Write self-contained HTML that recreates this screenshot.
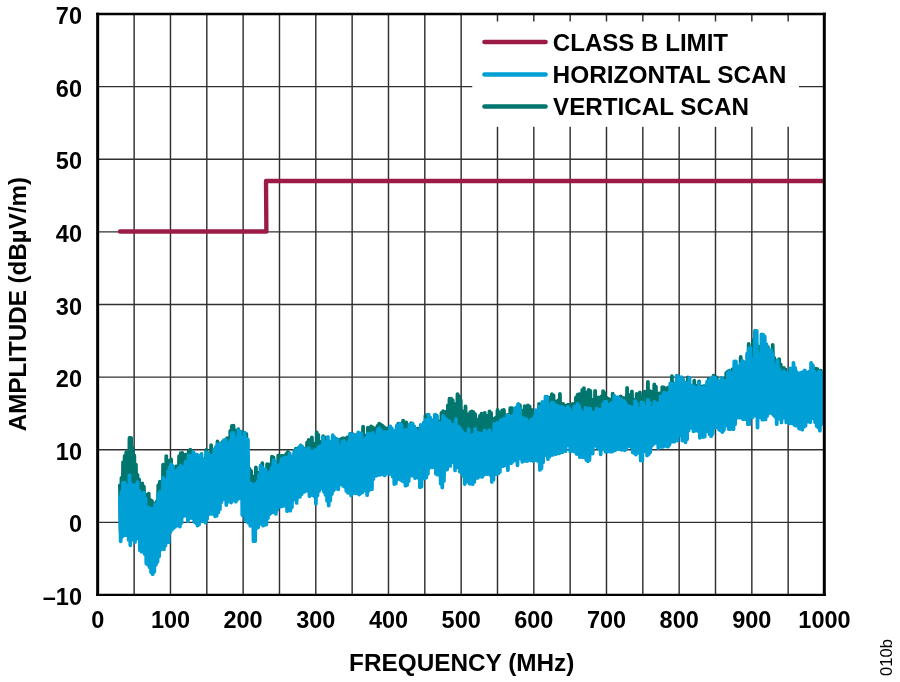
<!DOCTYPE html>
<html lang="en">
<head>
<meta charset="utf-8">
<title>Radiated Emissions</title>
<style>
html,body{margin:0;padding:0;background:#fff;}
body{width:900px;height:682px;overflow:hidden;}
svg{display:block;}
text{font-family:"Liberation Sans",Arial,Helvetica,sans-serif;font-weight:bold;fill:#000;}
.t{font-size:23.5px;}
.s{font-weight:normal;font-size:16.6px;}
</style>
</head>
<body>
<svg width="900" height="682" viewBox="0 0 900 682">
<rect x="0" y="0" width="900" height="682" fill="#ffffff"/>
<g stroke="#303030" stroke-width="1.45" fill="none">
<line x1="134.13" y1="14.0" x2="134.13" y2="595.0"/>
<line x1="170.47" y1="14.0" x2="170.47" y2="595.0"/>
<line x1="206.81" y1="14.0" x2="206.81" y2="595.0"/>
<line x1="243.14" y1="14.0" x2="243.14" y2="595.0"/>
<line x1="279.48" y1="14.0" x2="279.48" y2="595.0"/>
<line x1="315.81" y1="14.0" x2="315.81" y2="595.0"/>
<line x1="352.15" y1="14.0" x2="352.15" y2="595.0"/>
<line x1="388.48" y1="14.0" x2="388.48" y2="595.0"/>
<line x1="424.81" y1="14.0" x2="424.81" y2="595.0"/>
<line x1="461.15" y1="14.0" x2="461.15" y2="595.0"/>
<line x1="497.49" y1="14.0" x2="497.49" y2="595.0"/>
<line x1="533.82" y1="14.0" x2="533.82" y2="595.0"/>
<line x1="570.15" y1="14.0" x2="570.15" y2="595.0"/>
<line x1="606.49" y1="14.0" x2="606.49" y2="595.0"/>
<line x1="642.82" y1="14.0" x2="642.82" y2="595.0"/>
<line x1="679.16" y1="14.0" x2="679.16" y2="595.0"/>
<line x1="715.50" y1="14.0" x2="715.50" y2="595.0"/>
<line x1="751.83" y1="14.0" x2="751.83" y2="595.0"/>
<line x1="788.16" y1="14.0" x2="788.16" y2="595.0"/>
<line x1="97.8" y1="86.62" x2="824.5" y2="86.62"/>
<line x1="97.8" y1="159.25" x2="824.5" y2="159.25"/>
<line x1="97.8" y1="231.88" x2="824.5" y2="231.88"/>
<line x1="97.8" y1="304.50" x2="824.5" y2="304.50"/>
<line x1="97.8" y1="377.12" x2="824.5" y2="377.12"/>
<line x1="97.8" y1="449.75" x2="824.5" y2="449.75"/>
<line x1="97.8" y1="522.38" x2="824.5" y2="522.38"/>
</g>
<rect x="472.3" y="21.5" width="326.7" height="105.3" fill="#ffffff"/>
<polyline fill="none" stroke="#00766E" stroke-width="3.8" stroke-linejoin="round" stroke-linecap="round" points="119.9,485.3 120.7,532.3 121.5,477.9 122.3,527.1 123.1,462.1 123.9,515.5 124.7,455.9 125.5,520.7 126.3,452.1 127.1,521.6 127.9,454.1 128.7,523.4 129.5,437.9 130.3,521.3 131.1,438.0 131.9,521.5 132.7,448.1 133.5,524.6 134.3,455.4 135.1,525.2 135.9,464.7 136.7,527.1 137.5,474.8 138.3,532.2 139.1,479.3 139.9,531.9 140.7,487.0 141.5,534.5 142.3,483.4 143.1,540.5 143.9,486.7 144.7,546.0 145.5,494.5 146.3,544.9 147.1,499.7 147.9,557.4 148.7,493.6 149.5,559.7 150.3,500.0 151.1,554.2 151.9,500.9 152.7,555.6 153.5,503.5 154.3,554.6 155.1,504.7 155.9,551.2 156.7,501.6 157.5,543.6 158.3,485.2 159.1,539.0 159.9,481.7 160.7,534.8 161.5,482.4 162.3,532.6 163.1,464.6 163.9,528.3 164.7,471.2 165.5,527.0 166.3,456.1 167.1,527.1 167.9,461.7 168.7,523.0 169.5,460.6 170.3,515.6 171.1,459.3 171.9,513.3 172.7,470.1 173.5,517.0 174.3,468.6 175.1,510.7 175.9,466.5 176.7,512.6 177.5,466.2 178.3,509.5 179.1,456.2 179.9,510.5 180.7,453.2 181.5,507.0 182.3,453.0 183.1,513.9 183.9,460.0 184.7,513.6 185.5,454.7 186.3,512.3 187.1,459.6 187.9,502.9 188.7,451.1 189.5,506.5 190.3,449.6 191.1,506.1 191.9,453.9 192.7,506.8 193.5,455.3 194.3,508.7 195.1,462.9 195.9,508.7 196.7,454.6 197.5,508.6 198.3,461.6 199.1,506.6 199.9,459.4 200.7,505.4 201.5,460.9 202.3,507.3 203.1,461.2 203.9,507.6 204.7,459.0 205.5,511.8 206.3,449.9 207.1,511.5 207.9,457.6 208.7,502.6 209.5,455.6 210.3,506.2 211.1,445.2 211.9,501.3 212.7,453.9 213.5,500.8 214.3,450.1 215.1,497.5 215.9,447.9 216.7,498.4 217.5,441.5 218.3,497.4 219.1,444.0 219.9,496.9 220.7,449.5 221.5,492.1 222.3,442.2 223.1,490.5 223.9,442.4 224.7,491.6 225.5,440.0 226.3,488.1 227.1,438.1 227.9,494.6 228.7,441.3 229.5,494.1 230.3,430.8 231.1,485.2 231.9,425.9 232.7,486.1 233.5,425.7 234.3,485.4 235.1,430.5 235.9,487.3 236.7,430.9 237.5,491.3 238.3,429.1 239.1,481.8 239.9,433.1 240.7,482.8 241.5,431.9 242.3,496.1 243.1,433.5 243.9,503.7 244.7,447.0 245.5,510.7 246.3,434.0 247.1,512.8 247.9,456.3 248.7,510.2 249.5,468.8 250.3,511.8 251.1,470.9 251.9,511.6 252.7,476.3 253.5,523.4 254.3,479.1 255.1,524.7 255.9,467.4 256.7,512.8 257.5,475.2 258.3,511.0 259.1,472.7 259.9,512.6 260.7,465.6 261.5,512.3 262.3,463.2 263.1,509.6 263.9,469.6 264.7,508.7 265.5,469.9 266.3,510.2 267.1,464.2 267.9,510.0 268.7,464.3 269.5,499.1 270.3,466.0 271.1,497.6 271.9,456.7 272.7,503.5 273.5,457.3 274.3,504.5 275.1,462.6 275.9,499.1 276.7,462.6 277.5,499.0 278.3,455.4 279.1,499.0 279.9,456.4 280.7,498.9 281.5,456.0 282.3,497.2 283.1,456.0 283.9,496.0 284.7,461.5 285.5,501.8 286.3,453.9 287.1,501.6 287.9,451.8 288.7,494.7 289.5,453.4 290.3,500.1 291.1,457.9 291.9,494.1 292.7,456.8 293.5,491.3 294.3,454.1 295.1,488.7 295.9,448.7 296.7,493.4 297.5,448.7 298.3,491.9 299.1,452.1 299.9,485.3 300.7,445.3 301.5,484.8 302.3,450.0 303.1,484.9 303.9,449.2 304.7,481.9 305.5,448.5 306.3,481.3 307.1,442.4 307.9,482.8 308.7,440.0 309.5,487.3 310.3,443.6 311.1,482.2 311.9,437.5 312.7,490.7 313.5,444.8 314.3,485.1 315.1,443.7 315.9,487.4 316.7,432.3 317.5,485.1 318.3,434.9 319.1,483.8 319.9,443.1 320.7,479.7 321.5,441.6 322.3,477.7 323.1,436.2 323.9,476.8 324.7,437.4 325.5,481.0 326.3,439.3 327.1,487.1 327.9,444.6 328.7,488.5 329.5,445.1 330.3,486.7 331.1,445.6 331.9,483.0 332.7,445.9 333.5,481.5 334.3,447.0 335.1,479.0 335.9,446.6 336.7,476.7 337.5,439.4 338.3,474.6 339.1,440.1 339.9,474.5 340.7,439.3 341.5,476.4 342.3,438.4 343.1,476.1 343.9,438.3 344.7,483.4 345.5,440.8 346.3,484.0 347.1,437.4 347.9,478.3 348.7,437.3 349.5,477.8 350.3,433.7 351.1,484.8 351.9,434.8 352.7,480.6 353.5,434.9 354.3,479.6 355.1,440.1 355.9,483.6 356.7,436.2 357.5,478.6 358.3,434.2 359.1,479.5 359.9,435.0 360.7,477.2 361.5,433.2 362.3,480.0 363.1,426.7 363.9,477.4 364.7,436.2 365.5,485.0 366.3,435.3 367.1,485.7 367.9,427.7 368.7,476.0 369.5,428.0 370.3,475.2 371.1,426.3 371.9,473.8 372.7,427.5 373.5,471.4 374.3,429.7 375.1,466.3 375.9,428.1 376.7,461.8 377.5,426.0 378.3,460.1 379.1,423.7 379.9,464.9 380.7,424.7 381.5,461.5 382.3,425.6 383.1,462.2 383.9,426.9 384.7,461.2 385.5,433.3 386.3,462.2 387.1,428.3 387.9,462.2 388.7,427.8 389.5,465.5 390.3,428.2 391.1,466.2 391.9,433.9 392.7,468.5 393.5,433.7 394.3,469.2 395.1,430.9 395.9,467.5 396.7,432.0 397.5,470.3 398.3,423.6 399.1,469.3 399.9,423.7 400.7,474.9 401.5,430.9 402.3,476.9 403.1,420.6 403.9,476.0 404.7,426.1 405.5,476.9 406.3,422.5 407.1,467.7 407.9,429.1 408.7,465.8 409.5,430.0 410.3,466.9 411.1,423.2 411.9,462.2 412.7,428.9 413.5,463.4 414.3,427.7 415.1,465.9 415.9,428.9 416.7,467.1 417.5,428.7 418.3,467.8 419.1,429.3 419.9,469.3 420.7,426.9 421.5,468.9 422.3,426.0 423.1,466.1 423.9,423.0 424.7,463.3 425.5,415.4 426.3,468.8 427.1,415.2 427.9,467.2 428.7,421.5 429.5,464.9 430.3,422.4 431.1,459.4 431.9,420.7 432.7,458.3 433.5,420.1 434.3,458.9 435.1,414.8 435.9,463.1 436.7,415.7 437.5,466.4 438.3,421.7 439.1,471.5 439.9,421.3 440.7,469.6 441.5,412.8 442.3,468.3 443.1,411.2 443.9,475.3 444.7,415.7 445.5,459.1 446.3,411.7 447.1,453.0 447.9,405.4 448.7,453.5 449.5,398.7 450.3,450.4 451.1,398.7 451.9,451.7 452.7,400.1 453.5,453.5 454.3,405.4 455.1,460.1 455.9,403.8 456.7,460.9 457.5,394.1 458.3,457.6 459.1,396.1 459.9,457.6 460.7,400.0 461.5,460.9 462.3,411.1 463.1,462.3 463.9,414.4 464.7,465.2 465.5,406.4 466.3,467.8 467.1,416.3 467.9,465.7 468.7,414.2 469.5,468.3 470.3,412.1 471.1,467.2 471.9,411.5 472.7,467.2 473.5,412.1 474.3,464.2 475.1,414.1 475.9,465.7 476.7,419.5 477.5,462.6 478.3,420.0 479.1,463.1 479.9,415.9 480.7,459.9 481.5,413.6 482.3,462.2 483.1,414.7 483.9,465.5 484.7,412.9 485.5,463.7 486.3,419.4 487.1,468.5 487.9,415.6 488.7,463.5 489.5,411.3 490.3,464.9 491.1,412.8 491.9,472.5 492.7,421.1 493.5,462.1 494.3,418.7 495.1,461.8 495.9,417.6 496.7,460.4 497.5,410.0 498.3,457.6 499.1,412.2 499.9,460.7 500.7,416.0 501.5,457.0 502.3,410.4 503.1,454.7 503.9,410.0 504.7,454.2 505.5,417.5 506.3,461.6 507.1,415.1 507.9,460.3 508.7,414.7 509.5,460.6 510.3,408.2 511.1,458.5 511.9,408.2 512.7,457.4 513.5,413.8 514.3,455.2 515.1,408.6 515.9,452.1 516.7,412.7 517.5,448.3 518.3,404.1 519.1,448.5 519.9,405.2 520.7,454.6 521.5,410.4 522.3,454.2 523.1,410.9 523.9,450.1 524.7,406.1 525.5,448.2 526.3,407.4 527.1,448.1 527.9,405.4 528.7,447.4 529.5,406.4 530.3,451.2 531.1,409.4 531.9,447.8 532.7,412.2 533.5,448.6 534.3,413.3 535.1,449.2 535.9,411.7 536.7,451.6 537.5,413.3 538.3,459.5 539.1,403.9 539.9,460.8 540.7,405.9 541.5,452.6 542.3,408.9 543.1,449.9 543.9,408.8 544.7,446.9 545.5,406.4 546.3,444.4 547.1,406.3 547.9,442.8 548.7,398.5 549.5,442.2 550.3,397.3 551.1,442.4 551.9,394.1 552.7,448.0 553.5,395.4 554.3,446.9 555.1,402.5 555.9,440.8 556.7,401.3 557.5,439.0 558.3,400.3 559.1,438.6 559.9,394.0 560.7,437.6 561.5,403.7 562.3,437.0 563.1,403.8 563.9,441.7 564.7,405.4 565.5,437.0 566.3,407.8 567.1,438.1 567.9,404.7 568.7,438.9 569.5,405.2 570.3,442.7 571.1,408.7 571.9,441.7 572.7,403.9 573.5,438.1 574.3,406.7 575.1,438.6 575.9,397.6 576.7,438.4 577.5,394.9 578.3,442.0 579.1,394.1 579.9,442.0 580.7,394.1 581.5,443.0 582.3,389.8 583.1,444.3 583.9,388.1 584.7,449.6 585.5,392.1 586.3,442.0 587.1,397.8 587.9,449.8 588.7,390.0 589.5,443.0 590.3,390.9 591.1,448.4 591.9,399.6 592.7,439.8 593.5,399.6 594.3,442.2 595.1,390.9 595.9,441.3 596.7,397.7 597.5,432.2 598.3,397.5 599.1,435.4 599.9,399.8 600.7,439.7 601.5,396.3 602.3,438.1 603.1,391.1 603.9,438.4 604.7,393.1 605.5,438.2 606.3,397.6 607.1,437.9 607.9,398.7 608.7,437.3 609.5,399.3 610.3,440.6 611.1,401.1 611.9,439.9 612.7,393.6 613.5,436.6 614.3,399.3 615.1,434.8 615.9,400.0 616.7,440.7 617.5,398.9 618.3,435.7 619.1,397.6 619.9,435.0 620.7,396.4 621.5,435.1 622.3,397.6 623.1,435.8 623.9,398.3 624.7,435.3 625.5,397.9 626.3,440.0 627.1,387.9 627.9,440.8 628.7,396.5 629.5,437.7 630.3,395.0 631.1,437.0 631.9,391.3 632.7,438.9 633.5,399.7 634.3,439.0 635.1,400.7 635.9,438.6 636.7,393.9 637.5,442.0 638.3,394.2 639.1,443.4 639.9,392.4 640.7,445.3 641.5,398.1 642.3,442.7 643.1,396.1 643.9,450.0 644.7,391.7 645.5,448.8 646.3,393.8 647.1,444.7 647.9,382.0 648.7,436.4 649.5,391.0 650.3,439.5 651.1,391.6 651.9,435.7 652.7,392.3 653.5,435.1 654.3,384.4 655.1,432.4 655.9,386.7 656.7,431.4 657.5,394.1 658.3,438.6 659.1,393.5 659.9,437.5 660.7,393.3 661.5,433.2 662.3,387.1 663.1,430.9 663.9,387.5 664.7,437.9 665.5,392.8 666.3,435.7 667.1,388.2 667.9,430.5 668.7,387.4 669.5,428.3 670.3,386.8 671.1,425.8 671.9,376.2 672.7,433.2 673.5,383.3 674.3,432.8 675.1,385.1 675.9,428.0 676.7,386.5 677.5,426.2 678.3,387.4 679.1,426.9 679.9,385.7 680.7,424.6 681.5,379.9 682.3,431.5 683.1,381.3 683.9,432.2 684.7,385.9 685.5,427.2 686.3,382.4 687.1,423.8 687.9,377.4 688.7,422.9 689.5,384.9 690.3,419.4 691.1,386.4 691.9,419.4 692.7,385.9 693.5,418.0 694.3,380.7 695.1,418.2 695.9,385.6 696.7,421.2 697.5,386.6 698.3,422.0 699.1,381.4 699.9,422.7 700.7,389.0 701.5,423.3 702.3,386.5 703.1,422.6 703.9,386.2 704.7,427.0 705.5,386.1 706.3,428.4 707.1,385.0 707.9,423.9 708.7,378.9 709.5,422.8 710.3,385.7 711.1,420.6 711.9,383.0 712.7,420.0 713.5,375.6 714.3,426.0 715.1,383.4 715.9,425.3 716.7,377.3 717.5,419.0 718.3,382.5 719.1,423.1 719.9,381.4 720.7,424.1 721.5,381.8 722.3,421.9 723.1,380.6 723.9,421.1 724.7,379.4 725.5,416.3 726.3,372.9 727.1,420.5 727.9,371.3 728.7,415.6 729.5,370.6 730.3,414.7 731.1,370.3 731.9,415.3 732.7,369.1 733.5,413.2 734.3,371.8 735.1,412.0 735.9,369.1 736.7,408.6 737.5,367.1 738.3,404.4 739.1,367.1 739.9,401.1 740.7,357.0 741.5,403.6 742.3,361.9 743.1,403.6 743.9,362.1 744.7,405.0 745.5,362.9 746.3,405.1 747.1,365.1 747.9,409.3 748.7,344.0 749.5,408.5 750.3,360.9 751.1,409.0 751.9,361.5 752.7,408.4 753.5,339.9 754.3,408.4 755.1,331.7 755.9,405.6 756.7,363.3 757.5,408.2 758.3,346.4 759.1,408.5 759.9,347.6 760.7,406.8 761.5,349.2 762.3,403.9 763.1,357.9 763.9,401.4 764.7,361.5 765.5,401.7 766.3,344.9 767.1,403.7 767.9,347.1 768.7,402.8 769.5,361.5 770.3,403.3 771.1,356.0 771.9,405.6 772.7,344.9 773.5,406.4 774.3,357.8 775.1,406.7 775.9,360.3 776.7,414.1 777.5,365.8 778.3,407.1 779.1,359.1 779.9,408.4 780.7,364.3 781.5,409.0 782.3,370.5 783.1,408.7 783.9,368.0 784.7,408.5 785.5,369.5 786.3,408.3 787.1,373.0 787.9,408.7 788.7,378.0 789.5,410.2 790.3,372.2 791.1,415.8 791.9,378.7 792.7,410.6 793.5,372.4 794.3,410.3 795.1,378.5 795.9,417.2 796.7,379.2 797.5,418.7 798.3,378.5 799.1,417.9 799.9,379.5 800.7,417.7 801.5,379.0 802.3,415.3 803.1,376.2 803.9,413.7 804.7,372.5 805.5,412.9 806.3,372.5 807.1,408.8 807.9,376.0 808.7,407.2 809.5,374.0 810.3,406.7 811.1,374.7 811.9,409.3 812.7,365.8 813.5,411.4 814.3,368.9 815.1,412.4 815.9,368.7 816.7,415.4 817.5,369.2 818.3,413.2 819.1,378.5 819.9,421.6 820.7,370.6 821.5,416.7 822.3,373.1"/>
<polyline fill="none" stroke="#00A0D6" stroke-width="3.8" stroke-linejoin="round" stroke-linecap="round" points="119.9,496.8 120.7,541.3 121.5,491.8 122.3,536.5 123.1,482.6 123.9,535.1 124.7,482.9 125.5,535.1 126.3,486.3 127.1,533.3 127.9,485.4 128.7,539.9 129.5,475.4 130.3,545.3 131.1,484.1 131.9,538.6 132.7,487.1 133.5,539.7 134.3,485.2 135.1,541.9 135.9,486.4 136.7,536.5 137.5,482.1 138.3,538.5 139.1,490.7 139.9,550.1 140.7,493.2 141.5,551.6 142.3,497.1 143.1,549.5 143.9,492.7 144.7,554.1 145.5,498.7 146.3,563.6 147.1,507.9 147.9,564.6 148.7,507.4 149.5,567.2 150.3,513.7 151.1,572.3 151.9,508.6 152.7,574.2 153.5,516.1 154.3,571.8 155.1,504.3 155.9,564.6 156.7,504.4 157.5,561.8 158.3,494.1 159.1,556.6 159.9,491.9 160.7,549.8 161.5,492.6 162.3,546.9 163.1,477.7 163.9,549.3 164.7,484.9 165.5,545.4 166.3,479.5 167.1,537.4 167.9,471.7 168.7,542.2 169.5,467.8 170.3,532.2 171.1,464.5 171.9,529.8 172.7,466.0 173.5,528.0 174.3,471.3 175.1,526.9 175.9,471.2 176.7,525.6 177.5,469.9 178.3,519.1 179.1,467.8 179.9,526.6 180.7,465.7 181.5,522.8 182.3,467.3 183.1,516.3 183.9,466.8 184.7,515.7 185.5,462.0 186.3,513.9 187.1,462.4 187.9,521.2 188.7,455.4 189.5,514.0 190.3,455.9 191.1,518.0 191.9,460.9 192.7,517.2 193.5,452.1 194.3,521.8 195.1,461.1 195.9,522.9 196.7,454.6 197.5,525.5 198.3,455.6 199.1,524.5 199.9,460.6 200.7,516.9 201.5,453.8 202.3,521.3 203.1,459.4 203.9,519.7 204.7,461.4 205.5,522.7 206.3,452.4 207.1,518.9 207.9,452.9 208.7,514.2 209.5,457.7 210.3,510.7 211.1,455.7 211.9,513.9 212.7,456.8 213.5,509.5 214.3,449.2 215.1,516.3 215.9,446.9 216.7,515.8 217.5,444.2 218.3,512.4 219.1,444.8 219.9,509.2 220.7,444.2 221.5,502.0 222.3,447.7 223.1,499.2 223.9,440.2 224.7,498.6 225.5,439.7 226.3,505.0 227.1,445.1 227.9,501.8 228.7,443.3 229.5,496.1 230.3,440.5 231.1,502.5 231.9,432.8 232.7,500.7 233.5,433.1 234.3,498.6 235.1,438.1 235.9,501.7 236.7,439.4 237.5,499.2 238.3,430.0 239.1,491.9 239.9,431.5 240.7,498.6 241.5,437.0 242.3,515.1 243.1,440.9 243.9,512.1 244.7,432.6 245.5,520.2 246.3,438.7 247.1,521.9 247.9,439.7 248.7,522.9 249.5,488.4 250.3,525.8 251.1,483.5 251.9,524.9 252.7,484.4 253.5,541.1 254.3,488.0 255.1,541.1 255.9,483.7 256.7,528.0 257.5,481.9 258.3,527.1 259.1,475.0 259.9,520.2 260.7,466.0 261.5,523.6 262.3,467.7 263.1,525.7 263.9,469.4 264.7,518.7 265.5,469.5 266.3,524.5 267.1,474.7 267.9,518.2 268.7,472.9 269.5,514.1 270.3,471.4 271.1,513.0 271.9,467.6 272.7,512.2 273.5,460.4 274.3,508.0 275.1,461.1 275.9,513.9 276.7,466.2 277.5,509.5 278.3,465.8 279.1,506.6 279.9,464.3 280.7,506.5 281.5,459.0 282.3,506.1 283.1,464.8 283.9,505.7 284.7,457.6 285.5,504.5 286.3,457.4 287.1,511.2 287.9,462.4 288.7,510.2 289.5,453.8 290.3,510.6 291.1,460.0 291.9,507.3 292.7,456.7 293.5,499.6 294.3,451.0 295.1,499.4 295.9,450.1 296.7,502.9 297.5,449.3 298.3,496.4 299.1,447.1 299.9,496.8 300.7,445.6 301.5,494.3 302.3,446.7 303.1,492.3 303.9,452.1 304.7,491.5 305.5,449.2 306.3,490.7 307.1,453.6 307.9,490.9 308.7,448.2 309.5,496.2 310.3,452.5 311.1,493.2 311.9,451.5 312.7,495.1 313.5,452.0 314.3,496.2 315.1,450.0 315.9,503.6 316.7,450.6 317.5,495.5 318.3,447.7 319.1,491.0 319.9,446.3 320.7,488.7 321.5,446.0 322.3,488.6 323.1,437.4 323.9,491.6 324.7,442.0 325.5,494.9 326.3,444.4 327.1,500.9 327.9,437.0 328.7,505.6 329.5,442.1 330.3,500.5 331.1,441.5 331.9,494.0 332.7,435.2 333.5,490.5 334.3,437.1 335.1,488.9 335.9,438.7 336.7,484.6 337.5,439.7 338.3,489.3 339.1,446.7 339.9,484.1 340.7,445.8 341.5,483.1 342.3,441.8 343.1,485.9 343.9,440.9 344.7,486.8 345.5,444.2 346.3,490.9 347.1,443.4 347.9,492.8 348.7,441.7 349.5,487.3 350.3,433.8 351.1,495.5 351.9,435.0 352.7,493.5 353.5,434.4 354.3,487.2 355.1,439.6 355.9,493.4 356.7,434.7 357.5,488.5 358.3,432.4 359.1,494.5 359.9,435.2 360.7,493.1 361.5,433.8 362.3,492.4 363.1,440.3 363.9,490.5 364.7,439.5 365.5,487.7 366.3,437.6 367.1,495.2 367.9,433.7 368.7,490.8 369.5,435.5 370.3,489.0 371.1,434.0 371.9,489.2 372.7,432.9 373.5,478.9 374.3,437.4 375.1,474.8 375.9,435.7 376.7,475.7 377.5,429.9 378.3,473.4 379.1,428.2 379.9,474.9 380.7,430.1 381.5,474.3 382.3,434.0 383.1,468.0 383.9,431.8 384.7,475.4 385.5,432.4 386.3,473.6 387.1,432.2 387.9,472.8 388.7,432.1 389.5,474.0 390.3,426.5 391.1,474.0 391.9,428.4 392.7,476.6 393.5,431.6 394.3,484.0 395.1,432.6 395.9,483.4 396.7,425.7 397.5,477.7 398.3,426.1 399.1,479.0 399.9,423.6 400.7,479.8 401.5,424.9 402.3,480.9 403.1,430.3 403.9,481.6 404.7,430.2 405.5,485.6 406.3,429.9 407.1,485.0 407.9,431.0 408.7,481.3 409.5,424.6 410.3,473.7 411.1,424.9 411.9,475.6 412.7,423.6 413.5,475.7 414.3,426.3 415.1,478.1 415.9,429.5 416.7,475.1 417.5,432.2 418.3,477.7 419.1,432.9 419.9,487.3 420.7,424.9 421.5,486.7 422.3,430.2 423.1,476.6 423.9,422.6 424.7,478.4 425.5,419.9 426.3,477.5 427.1,421.9 427.9,473.8 428.7,414.7 429.5,467.8 430.3,417.7 431.1,467.0 431.9,420.8 432.7,467.3 433.5,420.6 434.3,465.8 435.1,414.7 435.9,473.6 436.7,416.1 437.5,474.6 438.3,423.1 439.1,473.8 439.9,422.9 440.7,483.6 441.5,424.9 442.3,487.5 443.1,416.0 443.9,480.9 444.7,418.1 445.5,469.6 446.3,419.2 447.1,469.5 447.9,422.0 448.7,465.2 449.5,421.2 450.3,465.9 451.1,424.3 451.9,460.7 452.7,424.7 453.5,462.0 454.3,425.0 455.1,470.4 455.9,419.1 456.7,465.4 457.5,426.6 458.3,467.3 459.1,427.1 459.9,471.7 460.7,429.2 461.5,472.9 462.3,431.6 463.1,475.9 463.9,433.3 464.7,484.0 465.5,435.1 466.3,481.8 467.1,433.8 467.9,478.4 468.7,429.2 469.5,483.5 470.3,435.7 471.1,483.7 471.9,435.3 472.7,484.1 473.5,434.6 474.3,481.9 475.1,428.9 475.9,475.9 476.7,435.2 477.5,477.9 478.3,432.9 479.1,476.3 479.9,434.4 480.7,476.6 481.5,433.3 482.3,476.8 483.1,435.9 483.9,474.8 484.7,430.5 485.5,473.3 486.3,432.1 487.1,474.2 487.9,435.5 488.7,473.5 489.5,430.1 490.3,475.0 491.1,435.3 491.9,481.9 492.7,433.1 493.5,479.8 494.3,423.8 495.1,472.3 495.9,427.3 496.7,474.1 497.5,422.7 498.3,473.4 499.1,427.2 499.9,471.9 500.7,420.1 501.5,465.0 502.3,424.7 503.1,466.1 503.9,418.7 504.7,464.9 505.5,422.6 506.3,465.5 507.1,415.6 507.9,470.1 508.7,415.5 509.5,462.9 510.3,418.7 511.1,463.1 511.9,416.4 512.7,461.7 513.5,414.8 514.3,459.7 515.1,408.2 515.9,460.5 516.7,407.2 517.5,465.3 518.3,404.3 519.1,457.2 519.9,408.9 520.7,458.5 521.5,417.1 522.3,461.8 523.1,418.4 523.9,461.0 524.7,418.5 525.5,460.5 526.3,419.5 527.1,461.1 527.9,422.7 528.7,455.9 529.5,421.8 530.3,460.3 531.1,419.6 531.9,460.1 532.7,419.4 533.5,461.3 534.3,416.9 535.1,459.5 535.9,410.1 536.7,460.3 537.5,412.9 538.3,461.0 539.1,406.6 539.9,469.9 540.7,412.6 541.5,468.4 542.3,401.9 543.1,462.3 543.9,403.1 544.7,455.2 545.5,396.6 546.3,454.4 547.1,396.6 547.9,459.1 548.7,405.5 549.5,456.6 550.3,405.5 551.1,451.1 551.9,402.3 552.7,454.9 553.5,403.0 554.3,449.8 555.1,409.1 555.9,454.1 556.7,405.4 557.5,452.7 558.3,406.3 559.1,453.4 559.9,413.1 560.7,445.9 561.5,406.8 562.3,452.3 563.1,407.7 563.9,447.5 564.7,408.7 565.5,451.2 566.3,411.8 567.1,445.0 567.9,406.8 568.7,445.4 569.5,409.0 570.3,451.7 571.1,411.8 571.9,450.2 572.7,412.2 573.5,451.1 574.3,406.6 575.1,451.9 575.9,411.5 576.7,454.0 577.5,404.0 578.3,453.7 579.1,405.8 579.9,457.2 580.7,410.4 581.5,452.4 582.3,412.6 583.1,457.3 583.9,412.8 584.7,457.2 585.5,407.9 586.3,459.9 587.1,413.0 587.9,461.3 588.7,408.3 589.5,459.9 590.3,408.9 591.1,451.1 591.9,412.3 592.7,453.5 593.5,413.2 594.3,445.9 595.1,412.2 595.9,443.3 596.7,408.5 597.5,447.6 598.3,411.7 599.1,449.3 599.9,409.7 600.7,454.3 601.5,409.4 602.3,448.7 603.1,403.9 603.9,447.3 604.7,401.9 605.5,451.6 606.3,401.9 607.1,451.8 607.9,405.5 608.7,450.4 609.5,404.6 610.3,451.6 611.1,403.5 611.9,451.7 612.7,402.5 613.5,450.8 614.3,395.9 615.1,450.1 615.9,397.4 616.7,445.1 617.5,397.2 618.3,448.8 619.1,398.7 619.9,449.2 620.7,399.3 621.5,449.8 622.3,401.3 623.1,444.1 623.9,400.9 624.7,450.3 625.5,402.9 626.3,448.8 627.1,407.6 627.9,444.8 628.7,406.2 629.5,446.0 630.3,406.8 631.1,447.0 631.9,407.8 632.7,452.3 633.5,407.4 634.3,453.2 635.1,401.1 635.9,454.5 636.7,403.4 637.5,450.5 638.3,408.4 639.1,452.8 639.9,408.6 640.7,460.4 641.5,402.3 642.3,460.7 643.1,402.7 643.9,451.3 644.7,408.0 645.5,451.3 646.3,406.3 647.1,455.5 647.9,400.0 648.7,454.2 649.5,402.7 650.3,452.1 651.1,408.1 651.9,445.8 652.7,407.4 653.5,443.9 654.3,401.8 655.1,443.0 655.9,403.2 656.7,442.4 657.5,405.7 658.3,448.0 659.1,402.9 659.9,445.8 660.7,396.4 661.5,446.9 662.3,400.8 663.1,446.8 663.9,392.7 664.7,439.7 665.5,392.8 666.3,446.0 667.1,394.0 667.9,446.7 668.7,392.8 669.5,444.8 670.3,383.3 671.1,436.1 671.9,383.8 672.7,441.6 673.5,386.7 674.3,441.6 675.1,383.4 675.9,438.3 676.7,375.7 677.5,440.5 678.3,376.7 679.1,434.2 679.9,383.6 680.7,435.3 681.5,377.2 682.3,440.5 683.1,379.1 683.9,439.5 684.7,383.5 685.5,442.3 686.3,382.9 687.1,439.3 687.9,384.6 688.7,430.4 689.5,377.8 690.3,427.7 691.1,385.4 691.9,426.1 692.7,385.9 693.5,431.3 694.3,386.9 695.1,430.7 695.9,388.7 696.7,430.1 697.5,387.9 698.3,431.2 699.1,382.9 699.9,437.8 700.7,387.3 701.5,435.3 702.3,387.7 703.1,437.0 703.9,387.2 704.7,436.7 705.5,387.7 706.3,431.0 707.1,381.7 707.9,431.1 708.7,380.9 709.5,434.2 710.3,378.9 711.1,436.2 711.9,378.8 712.7,433.9 713.5,377.1 714.3,427.6 715.1,378.0 715.9,427.1 716.7,382.2 717.5,426.0 718.3,381.1 719.1,429.7 719.9,382.3 720.7,430.5 721.5,377.9 722.3,432.0 723.1,380.1 723.9,430.0 724.7,381.1 725.5,424.3 726.3,381.0 727.1,425.5 727.9,372.9 728.7,429.0 729.5,371.0 730.3,429.1 731.1,373.5 731.9,422.7 732.7,373.1 733.5,429.2 734.3,361.4 735.1,424.3 735.9,361.5 736.7,418.0 737.5,366.4 738.3,412.4 739.1,367.3 739.9,417.6 740.7,363.7 741.5,416.1 742.3,361.0 743.1,419.3 743.9,362.4 744.7,419.1 745.5,367.6 746.3,416.0 747.1,353.7 747.9,424.2 748.7,348.7 749.5,424.0 750.3,347.6 751.1,416.2 751.9,359.1 752.7,417.1 753.5,358.8 754.3,415.5 755.1,330.7 755.9,415.0 756.7,330.9 757.5,427.5 758.3,354.0 759.1,417.2 759.9,356.2 760.7,412.4 761.5,334.5 762.3,419.7 763.1,334.6 763.9,419.4 764.7,336.4 765.5,419.4 766.3,344.2 767.1,416.0 767.9,348.4 768.7,411.2 769.5,350.3 770.3,412.8 771.1,350.3 771.9,413.3 772.7,353.8 773.5,415.1 774.3,364.9 775.1,416.8 775.9,368.7 776.7,424.2 777.5,360.6 778.3,418.6 779.1,368.8 779.9,417.9 780.7,372.2 781.5,422.4 782.3,373.5 783.1,417.5 783.9,371.1 784.7,417.2 785.5,372.7 786.3,422.4 787.1,373.5 787.9,422.2 788.7,373.3 789.5,423.3 790.3,368.3 791.1,423.3 791.9,371.8 792.7,419.7 793.5,362.9 794.3,424.9 795.1,367.9 795.9,425.7 796.7,372.0 797.5,422.2 798.3,374.2 799.1,428.5 799.9,373.2 800.7,424.7 801.5,372.7 802.3,429.6 803.1,371.8 803.9,426.7 804.7,370.5 805.5,425.8 806.3,373.8 807.1,417.1 807.9,372.5 808.7,421.6 809.5,371.5 810.3,422.1 811.1,362.9 811.9,416.4 812.7,365.2 813.5,418.3 814.3,371.6 815.1,422.3 815.9,373.6 816.7,426.0 817.5,377.1 818.3,427.4 819.1,371.4 819.9,430.6 820.7,372.8 821.5,424.1 822.3,372.5"/>
<polyline fill="none" stroke="#9C1B44" stroke-width="4.35" stroke-linejoin="round" stroke-linecap="round" points="120.0,231.5 266.4,231.5 266.0,181.0 823.0,181.0"/>
<line x1="97.65" y1="12.8" x2="97.65" y2="596.0" stroke="#000" stroke-width="3"/>
<line x1="824.30" y1="12.8" x2="824.30" y2="596.0" stroke="#000" stroke-width="3"/>
<line x1="96.2" y1="14.0" x2="825.8" y2="14.0" stroke="#000" stroke-width="2.4"/>
<line x1="96.2" y1="594.8" x2="825.8" y2="594.8" stroke="#000" stroke-width="2.2"/>
<g fill="none" stroke-width="4.6" stroke-linecap="round">
<line x1="484.5" y1="42" x2="545.5" y2="42" stroke="#9C1B44"/>
<line x1="484.5" y1="74.5" x2="545.5" y2="74.5" stroke="#00A0D6"/>
<line x1="484.5" y1="106.5" x2="545.5" y2="106.5" stroke="#00766E"/>
</g>
<text class="t" x="552.8" y="51" textLength="175.3" lengthAdjust="spacingAndGlyphs">CLASS B LIMIT</text>
<text class="t" x="552.6" y="83" textLength="233.7" lengthAdjust="spacingAndGlyphs">HORIZONTAL SCAN</text>
<text class="t" x="553" y="115.3" textLength="195.9" lengthAdjust="spacingAndGlyphs">VERTICAL SCAN</text>
<text class="t" x="82" y="24.0" text-anchor="end">70</text>
<text class="t" x="82" y="96.6" text-anchor="end">60</text>
<text class="t" x="82" y="169.2" text-anchor="end">50</text>
<text class="t" x="82" y="241.9" text-anchor="end">40</text>
<text class="t" x="82" y="314.5" text-anchor="end">30</text>
<text class="t" x="82" y="387.1" text-anchor="end">20</text>
<text class="t" x="82" y="459.8" text-anchor="end">10</text>
<text class="t" x="82" y="532.4" text-anchor="end">0</text>
<text class="t" x="82" y="605.0" text-anchor="end">–10</text>
<text class="t" x="97.8" y="627.9" text-anchor="middle">0</text>
<text class="t" x="170.5" y="627.9" text-anchor="middle">100</text>
<text class="t" x="243.1" y="627.9" text-anchor="middle">200</text>
<text class="t" x="315.8" y="627.9" text-anchor="middle">300</text>
<text class="t" x="388.5" y="627.9" text-anchor="middle">400</text>
<text class="t" x="461.2" y="627.9" text-anchor="middle">500</text>
<text class="t" x="533.8" y="627.9" text-anchor="middle">600</text>
<text class="t" x="606.5" y="627.9" text-anchor="middle">700</text>
<text class="t" x="679.2" y="627.9" text-anchor="middle">800</text>
<text class="t" x="751.8" y="627.9" text-anchor="middle">900</text>
<text class="t" x="824.5" y="627.9" text-anchor="middle">1000</text>
<text class="t" x="461.7" y="671" text-anchor="middle" textLength="225.3" lengthAdjust="spacingAndGlyphs">FREQUENCY (MHz)</text>
<text class="t" transform="translate(26.4,304) rotate(-90)" text-anchor="middle" textLength="254.3" lengthAdjust="spacingAndGlyphs">AMPLITUDE (dBµV/m)</text>
<text class="s" transform="translate(892.3,676.0) rotate(-90)">010b</text>
</svg>
</body>
</html>
